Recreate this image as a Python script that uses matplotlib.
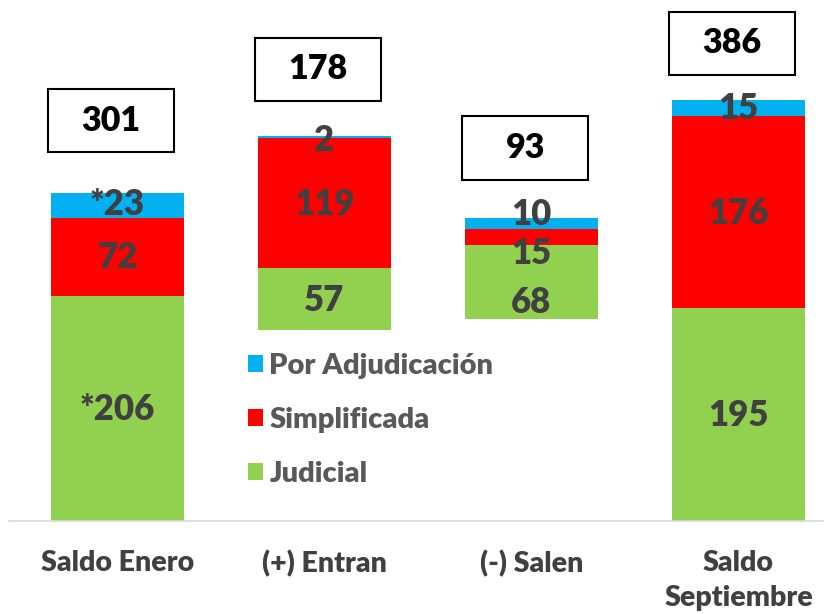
import matplotlib
matplotlib.use("Agg")
import matplotlib.pyplot as plt
from matplotlib.patches import Rectangle
import numpy as np

plt.rcParams['font.family'] = ['Lato', 'DejaVu Sans']

categories = ["Saldo Enero", "(+) Entran", "(-) Salen", "Saldo\nSeptiembre"]
judicial = [206, 57, 68, 195]
simplificada = [72, 119, 15, 176]
adjudicacion = [23, 2, 10, 15]
bases = [0, 175, 185, 0]
totals = [301, 178, 93, 386]
lbl_jud = ["*206", "57", "68", "195"]
lbl_simp = ["72", "119", "15", "176"]
lbl_adj = ["*23", "2", "10", "15"]

# label y positions (data units) placed as in the reference
pos_jud = [102, 202, 200, 97]
pos_simp = [242, 290, 245, 282]
pos_adj = [290, 349, 281, 378]
pos_tot = [367, 414, 342, 438]

c_blue = "#00B0F0"
c_red = "#FF0000"
c_green = "#92D050"
txt = "#404040"
W = "heavy"

fig = plt.figure(figsize=(8.24, 6.14), dpi=100)
ax = fig.add_axes([9/824, 93/614, 1 - 9/824, 521/614])

x = np.arange(len(categories))
w = 0.643
b = np.array(bases)
ax.bar(x, judicial, w, bottom=b, color=c_green, label="Judicial")
ax.bar(x, simplificada, w, bottom=b + judicial, color=c_red, label="Simplificada")
ax.bar(x, adjudicacion, w, bottom=b + np.array(judicial) + simplificada, color=c_blue,
       label="Por Adjudicación")

fs = 25
for i in range(len(x)):
    ax.text(x[i], pos_jud[i], lbl_jud[i], ha="center", va="center", fontsize=fs,
            fontweight=W, color=txt)
    ax.text(x[i], pos_simp[i], lbl_simp[i], ha="center", va="center", fontsize=fs,
            fontweight=W, color=txt)
    ax.text(x[i], pos_adj[i], lbl_adj[i], ha="center", va="center", fontsize=fs,
            fontweight=W, color=txt)
    # total boxes
    bw, bh = 0.61, 58.0
    ax.add_patch(Rectangle((x[i] - bw/2 - 0.03, pos_tot[i] - bh/2), bw, bh,
                           facecolor="white", edgecolor="black", linewidth=1.5, zorder=3))
    ax.text(x[i] - 0.03, pos_tot[i], str(totals[i]), ha="center", va="center",
            fontsize=24.5, fontweight=W, color="black", zorder=4)

ax.set_xlim(-0.524, 3.413)
ax.set_ylim(0, 477.7)
ax.set_xticks(x)
ax.set_xticklabels(categories, fontsize=20.5, fontweight=W, color=txt, linespacing=1.4)
ax.tick_params(axis="x", length=0, pad=21)
ax.set_yticks([])
for s in ["left", "right", "top"]:
    ax.spines[s].set_visible(False)
ax.spines["bottom"].set_color("#D9D9D9")
ax.spines["bottom"].set_linewidth(1.2)

handles, labels = ax.get_legend_handles_labels()
leg = ax.legend(handles[::-1], labels[::-1], loc="center left",
                bbox_to_anchor=(213/815, 1 - 420/521), frameon=False,
                handlelength=0.52, handleheight=0.52, handletextpad=0.2,
                labelspacing=0.95, prop={"size": 21, "weight": W})
for t in leg.get_texts():
    t.set_color("#595959")

fig.savefig("out.png", dpi=100)
